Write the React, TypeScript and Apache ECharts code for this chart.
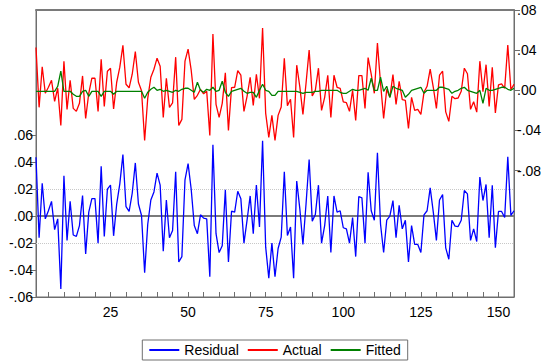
import React, { useEffect, useRef } from "react";
import * as echarts from "echarts";

const residual: number[] = [
  0.0437, -0.016, 0.0244, -0.002, 0.004, 0.011, -0.01, -0.002, -0.054, 0.03,
  -0.018, 0.011, -0.014, -0.015, -0.007, 0.0153, -0.028, 0.003, 0.013, 0.013,
  -0.02, 0.037, -0.015, 0.02, 0.023, -0.0146, 0.009, 0.024, 0.0457, 0.007,
  0.0035, 0.017, 0.0395, 0.009, 0.0005, -0.042, -0.006, 0.012, 0.018, 0.032,
  0.023, -0.026, 0.012, -0.016, -0.0106, 0.033, -0.034, -0.03, 0.027, 0.039,
  0.02, -0.007, -0.013, 0.001, -0.0015, -0.002, -0.045, 0.053, -0.013, -0.027,
  -0.022, 0.0195, -0.034, 0.0037, 0.003, 0.0185, 0.013, -0.02, -0.003, 0.015,
  -0.013, 0.023, -0.008, 0.056, -0.023, -0.046, -0.02, -0.045, -0.024, -0.0156,
  0.033, -0.0143, -0.008, -0.046, 0.026, 0.0054, -0.021, 0.009, 0.042, -0.0037,
  0.0012, 0.023, -0.02, -0.007, 0.015, -0.027, 0.015, 0.003, 0.004, -0.0086,
  -0.0094, -0.02, -0.001, -0.03, 0.0146, 0.0136, -0.02, 0.0326, 0.004, -0.003,
  0.047, -0.006, -0.027, -0.003, 0.0, 0.0116, -0.016, 0.008, -0.0094, -0.003,
  -0.034, -0.007, -0.021, -0.021, -0.027, 0.001, 0.004, 0.021, 0.003, -0.018,
  0.012, 0.016, -0.0235, -0.032, -0.003, -0.0074, -0.0077, -0.003, 0.019, 0.0165,
  -0.018, -0.0094, -0.0188, 0.029, 0.0116, 0.0235, -0.016, 0.023, -0.0235, 0.0035,
  0.0035, -0.001, 0.044, 0.0005, 0.004,
];

const fitted: number[] = [
  -0.001, -0.001, -0.001, -0.001, -0.001, -0.001, -0.001, 0.004, 0.019, -0.001,
  -0.001, -0.001, -0.004, -0.006, -0.006, -0.001, 0.0, -0.006, -0.001, -0.001,
  -0.001, -0.006, -0.001, -0.001, -0.001, -0.004, -0.001, -0.001, -0.001, -0.001,
  -0.001, -0.001, -0.001, -0.001, -0.001, -0.008, -0.002, 0.001, 0.003, 0.0,
  0.001, -0.001, 0.0, -0.001, -0.002, 0.0, -0.001, 0.001, 0.002, 0.002,
  0.0, -0.002, 0.008, 0.0, -0.002, 0.001, 0.0, 0.003, -0.001, 0.0,
  0.009, -0.002, -0.006, -0.001, 0.0, 0.001, 0.002, -0.001, -0.003, -0.002,
  -0.002, -0.007, 0.0, 0.006, 0.0, -0.001, -0.005, -0.005, -0.001, -0.001,
  -0.001, -0.001, -0.001, -0.001, -0.001, -0.002, -0.003, -0.002, -0.002, -0.002,
  -0.001, -0.001, 0.0, 0.0, 0.0, 0.0, 0.0, 0.0, -0.002, -0.003,
  -0.003, -0.001, 0.001, 0.0, 0.0, 0.001, 0.002, 0.0, 0.012, 0.0,
  0.0, 0.013, -0.001, 0.004, -0.007, 0.004, 0.002, 0.001, 0.0, -0.007,
  -0.004, 0.0, 0.001, 0.002, 0.003, -0.003, 0.0, 0.0, 0.0, 0.0,
  0.003, 0.003, 0.002, 0.001, -0.003, -0.001, 0.0, 0.002, 0.003, 0.0,
  -0.001, -0.002, -0.003, 0.0, -0.013, 0.002, 0.0, 0.0, 0.001, 0.002,
  0.003, 0.003, 0.001, 0.0, 0.002,
];

const actual: number[] = [
  0.0427, -0.017, 0.0234, -0.003, 0.003, 0.01, -0.011, 0.002, -0.035, 0.029,
  -0.019, 0.01, -0.018, -0.021, -0.013, 0.0143, -0.028, -0.003, 0.012, 0.012,
  -0.021, 0.031, -0.016, 0.019, 0.022, -0.0186, 0.008, 0.023, 0.0447, 0.006,
  0.0025, 0.016, 0.0385, 0.008, -0.0005, -0.05, -0.008, 0.013, 0.021, 0.032,
  0.024, -0.027, 0.012, -0.017, -0.0126, 0.033, -0.035, -0.029, 0.029, 0.041,
  0.02, -0.009, -0.005, 0.001, -0.0035, -0.001, -0.045, 0.056, -0.014, -0.027,
  -0.013, 0.0175, -0.04, 0.0027, 0.003, 0.0195, 0.015, -0.021, -0.006, 0.013,
  -0.015, 0.016, -0.008, 0.062, -0.023, -0.047, -0.025, -0.05, -0.025, -0.0166,
  0.032, -0.0153, -0.009, -0.047, 0.025, 0.0034, -0.024, 0.007, 0.04, -0.0057,
  0.0002, 0.022, -0.02, -0.007, 0.015, -0.027, 0.015, 0.003, 0.002, -0.0116,
  -0.0124, -0.021, 0.0, -0.03, 0.0146, 0.0146, -0.018, 0.0326, 0.016, -0.003,
  0.047, 0.007, -0.028, 0.001, -0.007, 0.0156, -0.014, 0.009, -0.0094, -0.01,
  -0.038, -0.007, -0.02, -0.019, -0.024, -0.002, 0.004, 0.021, 0.003, -0.018,
  0.015, 0.019, -0.0215, -0.031, -0.006, -0.0084, -0.0077, -0.001, 0.022, 0.0165,
  -0.019, -0.0114, -0.0218, 0.029, -0.0014, 0.0255, -0.016, 0.023, -0.0225, 0.0055,
  0.0065, 0.002, 0.045, 0.0005, 0.006,
];

const xTickValues: number[] = [5, 10, 15, 20, 25, 30, 35, 40, 45, 50, 55, 60, 65, 70, 75, 80, 85, 90, 95, 100, 105, 110, 115, 120, 125, 130, 135, 140, 145, 150];
const xLabelValues: number[] = [25, 50, 75, 100, 125, 150];
const leftTickValues: number[] = [-0.06, -0.04, -0.02, 0, 0.02, 0.04, 0.06];
const rightTickValues: number[] = [-0.08, -0.04, 0, 0.04, 0.08];
const residualGuides: number[] = [-0.02, 0.02];

const FONT = "'Liberation Sans', Arial, sans-serif";

function fmt(v: number): string {
  const r = Math.round(v * 100) / 100;
  const s = Math.abs(r).toFixed(2).replace(/^0/, "");
  return r < 0 ? "-" + s : s;
}

export default function App() {
  const ref = useRef<HTMLDivElement>(null);
  useEffect(() => {
    if (!ref.current) return;
    const chart = echarts.init(ref.current, undefined, { renderer: "svg" });
    const toPairs = (arr: number[]) => arr.map((v, i) => [i + 1, v]);
    const axisColor = "#6e6e6e";
    chart.setOption({
      animation: false,
      backgroundColor: "#ffffff",
      textStyle: { fontFamily: FONT },
      grid: {
        left: 36,
        right: 36,
        top: 10,
        height: 287,
        show: true,
        borderColor: axisColor,
        borderWidth: 1,
        backgroundColor: "transparent",
      },
      legend: {
        left: "center",
        bottom: 2,
        icon: "rect",
        itemWidth: 30,
        itemHeight: 2,
        itemGap: 9,
        padding: [3, 7, 3, 7],
        borderColor: "#6e6e6e",
        borderWidth: 1,
        textStyle: { fontSize: 14, color: "#000", fontFamily: FONT },
        data: ["Residual", "Actual", "Fitted"],
      },
      xAxis: [
        {
          type: "value",
          min: 1,
          max: 155,
          position: "bottom",
          axisLine: { show: true, onZero: false, lineStyle: { color: axisColor, width: 1 } },
          axisTick: { show: true, inside: true, length: 5, customValues: xTickValues, lineStyle: { color: axisColor } },
          axisLabel: { customValues: xLabelValues, fontSize: 14, color: "#000", margin: 8, fontFamily: FONT },
          splitLine: { show: false },
        },
        {
          type: "value",
          min: 1,
          max: 155,
          position: "top",
          axisLine: { show: true, onZero: false, lineStyle: { color: "#7a7a7a", width: 2 } },
          axisTick: { show: false },
          axisLabel: { show: false },
          splitLine: { show: false },
        },
      ],
      yAxis: [
        {
          type: "value",
          min: -0.06,
          max: 0.153,
          position: "left",
          axisLine: { show: true, onZero: false, lineStyle: { color: axisColor } },
          axisTick: { show: true, length: 6, customValues: leftTickValues, lineStyle: { color: axisColor } },
          axisLabel: { customValues: leftTickValues, formatter: fmt, fontSize: 14, color: "#000", margin: 3, fontFamily: FONT },
          splitLine: { show: false },
        },
        {
          type: "value",
          min: -0.206,
          max: 0.08,
          position: "right",
          axisLine: { show: true, onZero: false, lineStyle: { color: axisColor } },
          axisTick: { show: true, length: 6, customValues: rightTickValues, lineStyle: { color: axisColor } },
          axisLabel: { customValues: rightTickValues, formatter: fmt, fontSize: 14, color: "#000", margin: 3, fontFamily: FONT },
          splitLine: { show: false },
        },
      ],
      series: [
        {
          name: "guides",
          type: "line",
          xAxisIndex: 0,
          yAxisIndex: 0,
          data: [],
          z: 1,
          silent: true,
          markLine: {
            z: 1,
            silent: true,
            symbol: "none",
            label: { show: false },
            data: [
              ...residualGuides.map((v) => ({ yAxis: v, lineStyle: { color: "#c8c8c8", type: "dotted", width: 1 } })),
              { yAxis: 0, lineStyle: { color: "#7a7a7a", type: "solid", width: 2 } },
            ],
          },
        },
        {
          name: "Residual",
          type: "line",
          xAxisIndex: 0,
          yAxisIndex: 0,
          data: toPairs(residual),
          showSymbol: false,
          symbol: "none",
          z: 3,
          lineStyle: { color: "#0000ff", width: 1.3 },
          itemStyle: { color: "#0000ff" },
        },
        {
          name: "Actual",
          type: "line",
          xAxisIndex: 0,
          yAxisIndex: 1,
          data: toPairs(actual),
          showSymbol: false,
          symbol: "none",
          z: 3,
          lineStyle: { color: "#ff0000", width: 1.3 },
          itemStyle: { color: "#ff0000" },
        },
        {
          name: "Fitted",
          type: "line",
          xAxisIndex: 0,
          yAxisIndex: 1,
          data: toPairs(fitted),
          showSymbol: false,
          symbol: "none",
          z: 4,
          lineStyle: { color: "#008000", width: 1.3 },
          itemStyle: { color: "#008000" },
        },
      ],
    });
    return () => chart.dispose();
  }, []);
  return <div ref={ref} style={{ position: "fixed", left: 0, top: 0, width: 550, height: 362 }} />;
}
